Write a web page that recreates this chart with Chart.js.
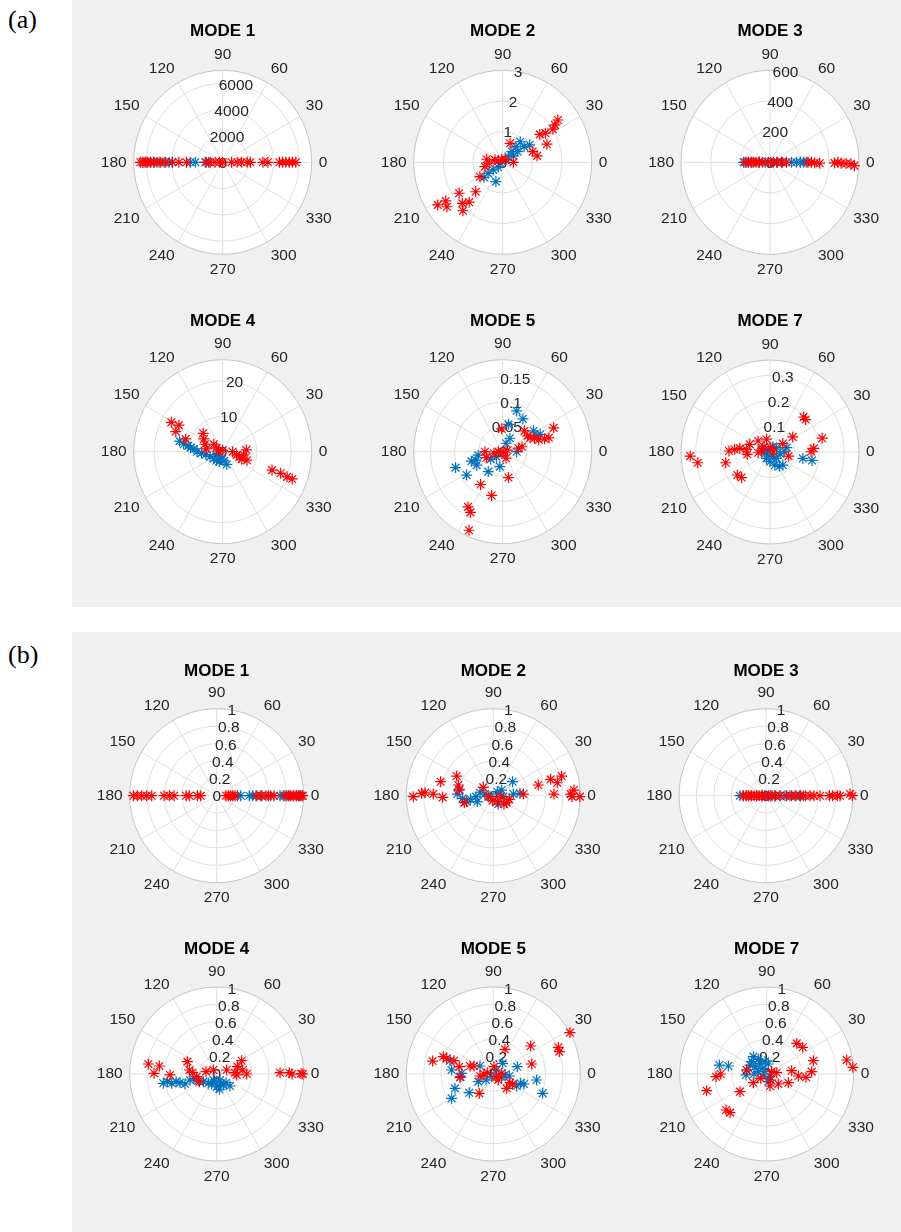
<!DOCTYPE html>
<html>
<head>
<meta charset="utf-8">
<title>Mode shapes - compass plots</title>
<script src="https://cdn.jsdelivr.net/npm/chart.js@4.4.1/dist/chart.umd.min.js"></script>
<style>
    html, body { margin: 0; padding: 0; background: #ffffff; }
    #page { position: relative; width: 901px; height: 1232px; overflow: hidden; }
    .panel { position: absolute; background: #f0f0f0; }
    .tag { position: absolute; font-family: "Liberation Serif", "Times New Roman", serif; font-size: 26px; color: #000; }
    canvas { position: absolute; }
</style>
</head>
<body>
<div id="page">
    <div class="panel" style="left:72px;top:0;width:829px;height:607px"></div>
    <div class="panel" style="left:72px;top:632px;width:829px;height:600px"></div>
    <div class="tag" style="left:8px;top:5px">(a)</div>
    <div class="tag" style="left:8px;top:640px">(b)</div>
</div>
<script>
// angle ticks (deg) shared by every compass
const THETA_TICKS = [0, 30, 60, 90, 120, 150, 180, 210, 240, 270, 300, 330];
const TITLES = ['MODE 1', 'MODE 2', 'MODE 3', 'MODE 4', 'MODE 5', 'MODE 7'];

// radial ticks / limits
const A1_TICKS = [0, 2000, 4000, 6000], A1_MAX = 7000;
const A2_TICKS = [0, 1, 2, 3], A2_MAX = 3;
const A3_TICKS = [0, 200, 400, 600], A3_MAX = 600;
const A4_TICKS = [0, 10, 20], A4_MAX = 26;
const A5_TICKS = [0, 0.05, 0.1, 0.15], A5_MAX = 0.185;
const A7_TICKS = [0, 0.1, 0.2, 0.3], A7_MAX = 0.36;
const B_TICKS = [0, 0.2, 0.4, 0.6, 0.8, 1], B_MAX = 1;

// mode shape components [real, imag] - panel (a)
const A1_BLUE = [[-6290,0],[-6030,0],[-5650,0],[-5390,0],[-5000,0],[-4610,0],[-4220,0],[-3960,0],[-2540,0],[-2150,0],[-1370,0],[-1110,0]];
const A1_RED = [[-6480,0],[-6290,0],[-6110,0],[-5900,0],[-5700,0],[-5440,0],[-5180,0],[-4870,0],[-4480,0],[-3960,0],[-3450,0],[-2850,0],[-1300,0],[-980,0],[-600,0],[-260,0],[0,0],
    [700,0],[1140,0],[1480,0],[1920,0],[2180,0],[3160,0],[3550,0],[4460,0],[4710,0],[4970,0],[5230,0],[5490,0],[5750,0]];

const A2_BLUE = [[0.59,0.67],[0.91,0.57],[0.45,0.51],[0.50,0.35],[0.31,0.35],[0.36,0.21],[0.19,0.19],[0.11,0.08],[-0.07,-0.03],[-0.15,-0.16],[-0.32,-0.25],[-0.49,-0.36],[-0.63,-0.49],[-0.23,-0.63],[0.72,0.51]];
const A2_RED = [[1.86,1.38],[1.76,1.22],[1.69,1.08],[1.44,0.95],[1.25,0.91],[1.49,0.59],[1.01,0.35],[1.16,0.21],[0.25,0.62],[0.36,0.00],[0.08,0.08],[-0.03,0.10],[-0.15,0.05],
    [-0.26,0.08],[-0.45,-0.03],[-0.54,0.10],[-0.60,-0.14],[-0.77,-0.47],[-0.91,-0.96],[-1.47,-1.01],[-1.92,-1.26],[-2.19,-1.39],[-1.88,-1.45],[-1.36,-1.34],[-1.13,-1.30],[-1.34,-1.58]];

const A3_BLUE = [[-178,0],[-156,0],[-123,0],[-78,0],[-33,0],[4,0],[45,0],[85,0],[145,0],[178,0],[205,0],[227,0],[245,0]];
const A3_RED = [[-167,0],[-145,0],[-127,0],[-111,0],[-94,0],[-71,0],[-49,0],[-11,0],[22,0],[49,0],[78,0],[111,0],[256,0],[279,0],[301,-4],[335,-6],[435,-4],[457,0],[479,-6],[513,-8],[546,-10],[569,-22]];

const A4_BLUE = [[-12.6,3.0],[-11.4,2.1],[-10.1,1.7],[-9.4,1.1],[-8.4,0.8],[-7.5,0],[-6.2,-0.4],[-4.9,-0.8],[-3.7,-1.4],[-2.6,-1.9],[-1.8,-2.5],[-1.0,-2.8],[-0.3,-2.1],[0.4,-2.6],[1.2,-3.6],[-2.0,-0.9],[-0.8,-1.4]];
const A4_RED = [[-15.0,8.3],[-12.8,7.5],[-13.7,5.7],[-10.8,3.6],[-5.7,5.2],[-5.5,3.6],[-5.2,2.1],[-4.7,0.8],[-2.6,2.1],[-1.8,1.1],[-1.2,0.2],[0,0.4],[2.9,0],[4.1,-0.9],
    [4.9,-1.5],[5.6,-2.1],[7.1,-2.4],[6.9,0.5],[6.1,-0.9],[14.4,-5.2],[16.9,-6.1],[18.8,-7.1],[20.3,-7.7]];

const A5_BLUE = [[0.029,0.082],[0.042,0.066],[0.012,0.055],[0.015,0.027],[0.007,0.017],[0.064,0.042],[0.071,0.032],[0.078,0.035],[0.029,0],[-0.051,-0.007],[-0.056,-0.017],
    [-0.054,-0.027],[-0.065,-0.019],[-0.098,-0.032],[-0.075,-0.047],[-0.030,-0.040],[-0.006,-0.030],[-0.025,-0.015],[-0.013,-0.010]];
const A5_RED = [[0.106,0.048],[0.096,0.028],[0.087,0.026],[0.075,0.024],[0.066,0.027],[0.057,0.028],[0.045,0.042],[0.052,0.032],[0.040,0.010],[0.033,0.007],[-0.002,0.046],
    [-0.037,0],[-0.034,-0.012],[-0.018,-0.003],[-0.009,0],[0.001,-0.001],[0.007,-0.013],[0.010,0.003],[0.012,-0.052],[-0.046,-0.066],[-0.023,-0.088],[-0.072,-0.111],[-0.067,-0.122],[-0.070,-0.158]];

const A7_BLUE = [[0.068,0.017],[0.057,0.001],[0.041,-0.007],[0.027,0.017],[0.011,0.020],[-0.007,0.004],[-0.020,-0.007],[-0.014,-0.025],[0,-0.038],[0.020,-0.051],[0.038,-0.056],
    [0.052,-0.051],[0.027,-0.025],[0.014,-0.016],[0.133,-0.025],[0.170,-0.033],[-0.030,0.014]];
const A7_RED = [[0.136,0.137],[0.144,0.127],[0.211,0.054],[0.092,0.059],[0.052,0.033],[0.177,0.014],[0.166,0.001],[0.075,-0.016],[-0.014,0.050],[-0.048,0.043],[-0.082,0.030],
    [-0.095,0.010],[-0.122,0.014],[-0.143,0.010],[-0.166,0.004],[-0.092,-0.009],[-0.048,-0.003],[-0.034,0.007],[-0.024,0.020],[0.003,0.017],[0.014,0.001],[-0.179,-0.042],
    [-0.132,-0.090],[-0.115,-0.100],[-0.323,-0.016],[-0.292,-0.042]];

// normalised mode shapes - panel (b)
const B1_BLUE = [[0.238,0],[0.276,0],[0.375,0],[0.414,0],[0.452,0],[0.506,0],[0.594,0],[0.728,0],[0.766,0],[0.805,0],[0.843,0],[0.881,0],[0.920,0],[0.950,0],[0.981,0]];
const B1_RED = [[-0.958,0],[-0.912,0],[-0.862,0],[-0.805,0],[-0.747,0],[-0.605,0],[-0.544,0],[-0.490,0],[-0.352,0],[-0.314,0],[-0.222,0],[-0.184,0],
    [0.107,0],[0.134,0],[0.161,0],[0.184,0],[0.211,0],[0.460,0],[0.517,0],[0.567,0],[0.621,0],[0.659,0],[0.785,0],[0.824,0],[0.851,0],[0.881,0],[0.912,0],[0.939,0],[0.966,0],[0.990,0]];

const B2_BLUE = [[0.222,0.161],[-0.391,0.073],[-0.414,0.019],[-0.352,-0.031],[-0.307,-0.069],[-0.261,-0.042],[-0.199,-0.011],[-0.184,-0.069],[-0.153,0.034],[-0.096,0.019],
    [-0.038,-0.011],[0.046,0.046],[0.096,0.065],[0.115,-0.011],[0.230,0.019],[0.307,0.027],[0.057,-0.096]];
const B2_RED = [[-0.920,-0.011],[-0.824,0.027],[-0.785,0.034],[-0.690,0.019],[-0.582,-0.019],[-0.605,0.161],[-0.421,0.226],[-0.402,0.123],[-0.391,0.065],[-0.333,-0.080],
    [-0.115,0.096],[-0.057,-0.011],[-0.008,-0.057],[0.046,-0.069],[0.084,-0.011],[0.123,-0.096],[0.153,-0.080],[0.184,-0.042],[0.345,0.019],[0.517,0.123],[0.659,0.188],
    [0.736,0.149],[0.785,0.226],[0.697,0.019],[0.889,0.019],[0.927,0.065],[0.904,-0.011],[0.995,-0.011]];

const B3_BLUE = [[-0.299,0],[-0.261,0],[-0.222,0],[-0.165,0],[-0.107,0],[-0.050,0],[0,0],[0.054,0],[0.103,0],[0.161,0],[0.218,0],[0.276,0],[0.333,0],[0.383,0],[0.429,0]];
const B3_RED = [[-0.261,0],[-0.230,0],[-0.199,0],[-0.169,0],[-0.138,0],[-0.107,0],[-0.077,0],[-0.046,0],[-0.015,0],[0.031,0],[0.069,0],[0.107,0],[0.161,0],[0.238,0],[0.295,0],
    [0.345,0],[0.398,0],[0.452,0],[0.506,0],[0.552,0],[0.621,0],[0.728,0],[0.766,0],[0.820,0],[0.851,0],[0.966,0.019],[0.992,0]];

const B4_BLUE = [[-0.613,-0.107],[-0.567,-0.088],[-0.517,-0.107],[-0.467,-0.088],[-0.421,-0.100],[-0.364,-0.115],[-0.307,-0.069],[-0.261,-0.054],[-0.211,-0.077],[-0.153,-0.088],
    [-0.096,-0.107],[-0.057,-0.115],[-0.019,-0.100],[0,-0.146],[0.031,-0.176],[0.046,-0.115],[0.077,-0.126],[0.107,-0.100],[0.153,-0.138],[-0.038,-0.069],[0.038,-0.069]];
const B4_RED = [[-0.785,0.115],[-0.659,0.092],[-0.720,0.008],[-0.536,-0.011],[-0.337,0.142],[-0.314,0.046],[-0.276,0.015],[-0.230,-0.031],[-0.199,-0.088],[-0.123,0.027],
    [-0.038,0.046],[0.115,0.046],[0.211,0.015],[0.238,0.084],[0.287,0.153],[0.299,0.046],[0.345,0],[0.230,-0.011],[0.728,0.015],[0.835,0.015],[0.866,0],[0.970,0.004],[0.990,0]];

const B5_BLUE = [[-0.498,0.153],[-0.479,0.046],[-0.441,-0.165],[-0.479,-0.280],[-0.364,0.008],[-0.375,-0.031],[-0.276,-0.215],[-0.172,-0.088],[-0.153,0.092],[-0.084,-0.069],
    [-0.019,-0.031],[0.038,0.046],[0.107,0.123],[0.134,-0.008],[0.184,-0.023],[0.276,0.084],[0.268,-0.138],[0.314,-0.107],[0.352,-0.115],[0.498,-0.069],[0.567,-0.222],[0.096,-0.038]];
const B5_RED = [[-0.697,0.149],[-0.575,0.199],[-0.536,0.180],[-0.452,0.153],[-0.391,0.084],[-0.383,-0.038],[-0.268,0.092],[-0.222,0.092],[-0.153,-0.023],[-0.107,0],[-0.069,0.015],
    [0.008,0.084],[0.031,-0.031],[0.057,-0.069],[0.096,0.008],[0.134,0.284],[0.153,-0.165],[0.192,-0.100],[0.222,-0.115],[0.429,0.322],[0.441,0.115],[0.747,0.307],[0.759,0.257],
    [0.881,0.475],[-0.161,-0.222]];

const B7_BLUE = [[-0.153,0.199],[-0.096,0.169],[-0.172,0.142],[-0.192,0.103],[-0.134,0.084],[-0.077,0.123],[-0.019,0.142],[0.019,0.115],[-0.046,0.065],[-0.096,0.027],
    [-0.031,0],[-0.230,0.046],[-0.238,-0.011],[-0.146,0],[-0.544,0.103],[-0.441,0.092],[0.038,-0.031],[0.019,-0.088]];
const B7_RED = [[0.345,0.352],[0.414,0.307],[0.536,0.153],[0.920,0.161],[0.990,0.077],[0.517,0.027],[0.452,-0.038],[0.364,-0.023],[0.287,0.038],[0.249,-0.100],[0.134,-0.115],
    [0.115,0.015],[0.057,0.027],[0.046,-0.069],[0.038,-0.138],[-0.069,-0.050],[-0.153,-0.100],[-0.230,0.046],[-0.307,-0.203],[-0.529,0],[-0.582,-0.031],[-0.690,-0.192],
    [-0.467,-0.414],[-0.421,-0.444]];

const BLUE = '#0072bd';
const RED = '#ff0000';
const FONT = '"Liberation Sans", Arial, Helvetica, sans-serif';

// draws the compass grid (rings, spokes, labels) behind the points
const polarGrid = {
    id: 'polarGrid',
    beforeDatasetsDraw(chart, args, opts) {
        const ctx = chart.ctx;
        const xs = chart.scales.x, ys = chart.scales.y;
        const rmax = opts.rmax;
        const ox = xs.getPixelForValue(0), oy = ys.getPixelForValue(0);
        const rx = xs.getPixelForValue(rmax) - ox;
        const ry = oy - ys.getPixelForValue(rmax);

        ctx.save();
        ctx.fillStyle = '#ffffff';
        ctx.beginPath();
        ctx.ellipse(ox, oy, rx, ry, 0, 0, Math.PI * 2);
        ctx.fill();

        ctx.strokeStyle = '#e0e0e0';
        ctx.lineWidth = 1;
        THETA_TICKS.forEach(a => {
            const t = a * Math.PI / 180;
            ctx.beginPath();
            ctx.moveTo(ox, oy);
            ctx.lineTo(ox + rx * Math.cos(t), oy - ry * Math.sin(t));
            ctx.stroke();
        });
        opts.ticks.forEach(v => {
            if (v <= 0 || v >= rmax) return;
            ctx.beginPath();
            ctx.ellipse(ox, oy, rx * v / rmax, ry * v / rmax, 0, 0, Math.PI * 2);
            ctx.stroke();
        });
        ctx.strokeStyle = '#c4c4c4';
        ctx.beginPath();
        ctx.ellipse(ox, oy, rx, ry, 0, 0, Math.PI * 2);
        ctx.stroke();

        ctx.fillStyle = '#262626';
        ctx.font = '15.5px ' + FONT;
        ctx.textAlign = 'center';
        ctx.textBaseline = 'middle';

        // radial tick labels along the 80 degree ray
        const r80 = 80 * Math.PI / 180;
        opts.ticks.forEach(v => {
            const x = ox + rx * v / rmax * Math.cos(r80);
            const y = oy - ry * v / rmax * Math.sin(r80);
            ctx.fillText(String(v), x, y + 1);
        });

        // angle labels outside the ring
        THETA_TICKS.forEach(a => {
            const t = a * Math.PI / 180, c = Math.cos(t), s = Math.sin(t);
            const label = String(a);
            const w = ctx.measureText(label).width;
            let x = ox + (rx + 7) * c;
            let y = oy - (ry + 10) * s;
            if (Math.abs(c) > 0.01) x += Math.sign(c) * w / 2;
            if (Math.abs(s) > 0.01) y -= Math.sign(s) * 5.5;
            ctx.fillText(label, x, y);
        });
        ctx.restore();
    }
};

const toXY = pts => pts.map(p => ({ x: p[0], y: p[1] }));

const PANEL_A = { rx: 89, ry: 92, titleOff: 131 };
const PANEL_B = { rx: 87, ry: 87, titleOff: 124.5 };

const PLOTS = [
    { title: TITLES[0], blue: A1_BLUE, red: A1_RED, ticks: A1_TICKS, rmax: A1_MAX, cx: 222.7, cy: 162.3, g: PANEL_A },
    { title: TITLES[1], blue: A2_BLUE, red: A2_RED, ticks: A2_TICKS, rmax: A2_MAX, cx: 502.7, cy: 162.3, g: PANEL_A },
    { title: TITLES[2], blue: A3_BLUE, red: A3_RED, ticks: A3_TICKS, rmax: A3_MAX, cx: 770, cy: 162.3, g: PANEL_A },
    { title: TITLES[3], blue: A4_BLUE, red: A4_RED, ticks: A4_TICKS, rmax: A4_MAX, cx: 222.7, cy: 451.7, g: PANEL_A },
    { title: TITLES[4], blue: A5_BLUE, red: A5_RED, ticks: A5_TICKS, rmax: A5_MAX, cx: 502.7, cy: 451.7, g: PANEL_A },
    { title: TITLES[5], blue: A7_BLUE, red: A7_RED, ticks: A7_TICKS, rmax: A7_MAX, cx: 770, cy: 452, g: PANEL_A },
    { title: TITLES[0], blue: B1_BLUE, red: B1_RED, ticks: B_TICKS, rmax: B_MAX, cx: 216.7, cy: 795.7, g: PANEL_B },
    { title: TITLES[1], blue: B2_BLUE, red: B2_RED, ticks: B_TICKS, rmax: B_MAX, cx: 493.3, cy: 795.7, g: PANEL_B },
    { title: TITLES[2], blue: B3_BLUE, red: B3_RED, ticks: B_TICKS, rmax: B_MAX, cx: 766, cy: 795.7, g: PANEL_B },
    { title: TITLES[3], blue: B4_BLUE, red: B4_RED, ticks: B_TICKS, rmax: B_MAX, cx: 216.7, cy: 1074, g: PANEL_B },
    { title: TITLES[4], blue: B5_BLUE, red: B5_RED, ticks: B_TICKS, rmax: B_MAX, cx: 493.3, cy: 1074, g: PANEL_B },
    { title: TITLES[5], blue: B7_BLUE, red: B7_RED, ticks: B_TICKS, rmax: B_MAX, cx: 766.7, cy: 1074, g: PANEL_B }
];

function makeCompass(p) {
    const g = p.g;
    const W = 266;
    const left = Math.round(p.cx - W / 2);
    const top = Math.round(p.cy - g.titleOff - 14.2);
    const H = Math.round(p.cy - top + g.ry + 34);
    const padL = (p.cx - left) - g.rx;
    const padR = W - padL - 2 * g.rx;
    const padB = H - (p.cy - top) - g.ry;
    const titleBottom = (p.cy - g.ry) - (top + 4 + 20.4);

    const canvas = document.createElement('canvas');
    canvas.width = W;
    canvas.height = H;
    canvas.style.left = left + 'px';
    canvas.style.top = top + 'px';
    canvas.style.width = W + 'px';
    canvas.style.height = H + 'px';
    document.getElementById('page').appendChild(canvas);

    const star = color => ({
        pointStyle: 'star', pointRadius: 5.5, pointHoverRadius: 5.5,
        borderWidth: 1.2, borderColor: color, backgroundColor: color, clip: false
    });

    new Chart(canvas, {
        type: 'scatter',
        data: {
            datasets: [
                Object.assign({ label: 'red', data: toXY(p.red) }, star(RED)),
                Object.assign({ label: 'blue', data: toXY(p.blue) }, star(BLUE))
            ]
        },
        options: {
            responsive: false,
            animation: false,
            events: [],
            layout: { padding: { left: padL, right: padR, top: 0, bottom: padB } },
            scales: {
                x: { type: 'linear', display: false, min: -p.rmax, max: p.rmax },
                y: { type: 'linear', display: false, min: -p.rmax, max: p.rmax }
            },
            plugins: {
                legend: { display: false },
                tooltip: { enabled: false },
                title: {
                    display: true,
                    text: p.title,
                    color: '#000000',
                    font: { family: FONT, size: 17, weight: 'bold' },
                    padding: { top: 4, bottom: titleBottom }
                },
                polarGrid: { rmax: p.rmax, ticks: p.ticks }
            }
        },
        plugins: [polarGrid]
    });
}

PLOTS.forEach(makeCompass);
</script>
</body>
</html>
